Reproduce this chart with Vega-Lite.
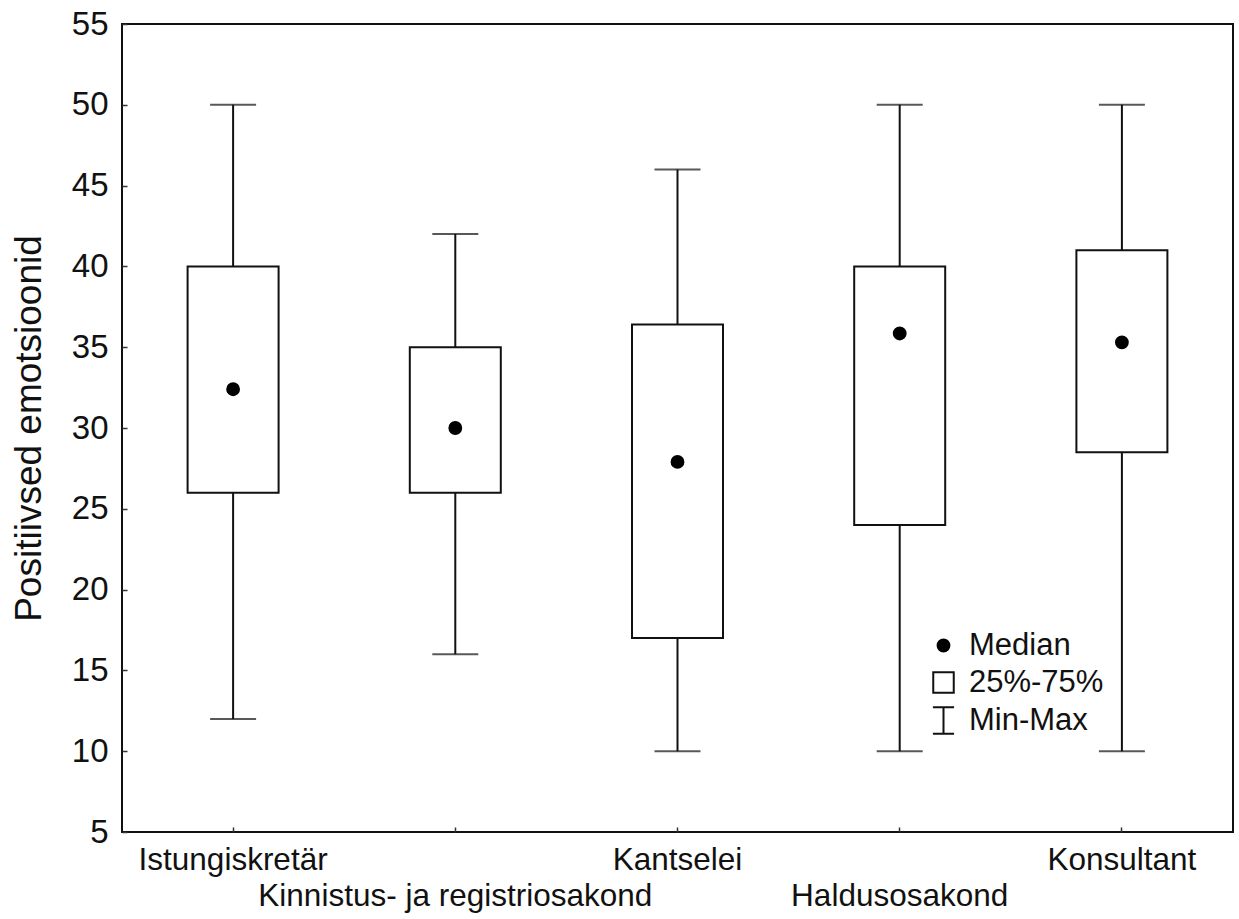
{
  "$schema": "https://vega.github.io/schema/vega-lite/v6.json",
  "width": 1111,
  "height": 808,
  "autosize": {"type": "none"},
  "padding": {"left": 122, "top": 24, "right": 6, "bottom": 87},
  "background": "white",
  "config": {
    "font": "Liberation Sans",
    "view": {"stroke": "#111111", "strokeWidth": 2},
    "axis": {"grid": false, "domain": false, "labelFont": "Liberation Sans", "titleFont": "Liberation Sans", "labelColor": "#111111", "titleColor": "#111111", "tickColor": "#333333", "tickWidth": 1.5}
  },
  "datasets": {
    "boxes": [
      {"cat": "Istungiskretär", "min": 12, "q1": 26, "median": 32.4, "q3": 40, "max": 50},
      {"cat": "Kinnistus- ja registriosakond", "min": 16, "q1": 26, "median": 30, "q3": 35, "max": 42},
      {"cat": "Kantselei", "min": 10, "q1": 17, "median": 27.9, "q3": 36.4, "max": 46},
      {"cat": "Haldusosakond", "min": 10, "q1": 24, "median": 35.85, "q3": 40, "max": 50},
      {"cat": "Konsultant", "min": 10, "q1": 28.5, "median": 35.3, "q3": 41, "max": 50}
    ],
    "legendrows": [
      {"cat": "Istungiskretär", "median": 32.4, "item": "Median"},
      {"cat": "Kinnistus- ja registriosakond", "median": 30, "item": "Median"},
      {"cat": "Kantselei", "median": 27.9, "item": "Median"},
      {"cat": "Haldusosakond", "median": 35.85, "item": "Median"},
      {"cat": "Konsultant", "median": 35.3, "item": "Median"},
      {"cat": "Konsultant", "median": null, "item": "25%-75%"},
      {"cat": "Konsultant", "median": null, "item": "Min-Max"}
    ]
  },
  "data": {"name": "boxes"},
  "encoding": {
    "x": {
      "field": "cat",
      "type": "nominal",
      "sort": ["Istungiskretär", "Kinnistus- ja registriosakond", "Kantselei", "Haldusosakond", "Konsultant"],
      "scale": {"domain": ["Istungiskretär", "Kinnistus- ja registriosakond", "Kantselei", "Haldusosakond", "Konsultant"], "paddingInner": 0, "paddingOuter": 0},
      "axis": {
        "title": null,
        "labelAngle": 0,
        "labelFontSize": 31.5,
        "labelLimit": 1000,
        "labelOverlap": false,
        "labelBound": false,
        "labelPadding": 17,
        "labelLineHeight": 36,
        "tickSize": -5,
        "labelExpr": "(datum.value === 'Kinnistus- ja registriosakond' || datum.value === 'Haldusosakond') ? ['', datum.value] : datum.value"
      }
    }
  },
  "layer": [
    {
      "mark": {"type": "rule", "color": "#111111", "strokeWidth": 2},
      "encoding": {
        "y": {"field": "min", "type": "quantitative", "scale": {"domain": [5, 55], "nice": false, "zero": false},
          "axis": {"title": "Positiivsed emotsioonid", "values": [5, 10, 15, 20, 25, 30, 35, 40, 45, 50, 55], "labelFontSize": 33, "titleFontSize": 37, "titleFontWeight": "normal", "titlePadding": 23, "labelPadding": 19, "tickSize": -5}},
        "y2": {"field": "max"}
      }
    },
    {
      "mark": {"type": "bar", "width": 91, "fill": "white", "stroke": "#111111", "strokeWidth": 2},
      "encoding": {
        "y": {"field": "q1", "type": "quantitative"},
        "y2": {"field": "q3"}
      }
    },
    {
      "mark": {"type": "tick", "size": 46, "thickness": 2, "color": "#111111"},
      "encoding": {"y": {"field": "min", "type": "quantitative"}}
    },
    {
      "mark": {"type": "tick", "size": 46, "thickness": 2, "color": "#111111"},
      "encoding": {"y": {"field": "max", "type": "quantitative"}}
    },
    {
      "data": {"name": "legendrows"},
      "mark": {"type": "point", "filled": false, "opacity": 1, "strokeWidth": 2},
      "encoding": {
        "y": {"field": "median", "type": "quantitative"},
        "shape": {"field": "item", "type": "nominal", "scale": {"domain": ["Median", "25%-75%", "Min-Max"], "range": ["circle", "square", "M-0.8,-1H0.8M0,-1V1M-0.8,1H0.8"]}},
        "size": {"field": "item", "type": "nominal", "scale": {"domain": ["Median", "25%-75%", "Min-Max"], "range": [140, 700, 900]}},
        "fill": {"field": "item", "type": "nominal", "scale": {"domain": ["Median", "25%-75%", "Min-Max"], "range": ["#000000", "#ffffff", "transparent"]}},
        "stroke": {"field": "item", "type": "nominal", "scale": {"domain": ["Median", "25%-75%", "Min-Max"], "range": ["#000000", "#111111", "#111111"]},
          "legend": {"title": null, "orient": "none", "legendX": 806, "legendY": 606, "padding": 0, "labelFontSize": 31, "labelFont": "Liberation Sans", "labelColor": "#111111", "labelOffset": 10, "rowPadding": 5, "symbolStrokeWidth": 2}}
      }
    }
  ]
}
